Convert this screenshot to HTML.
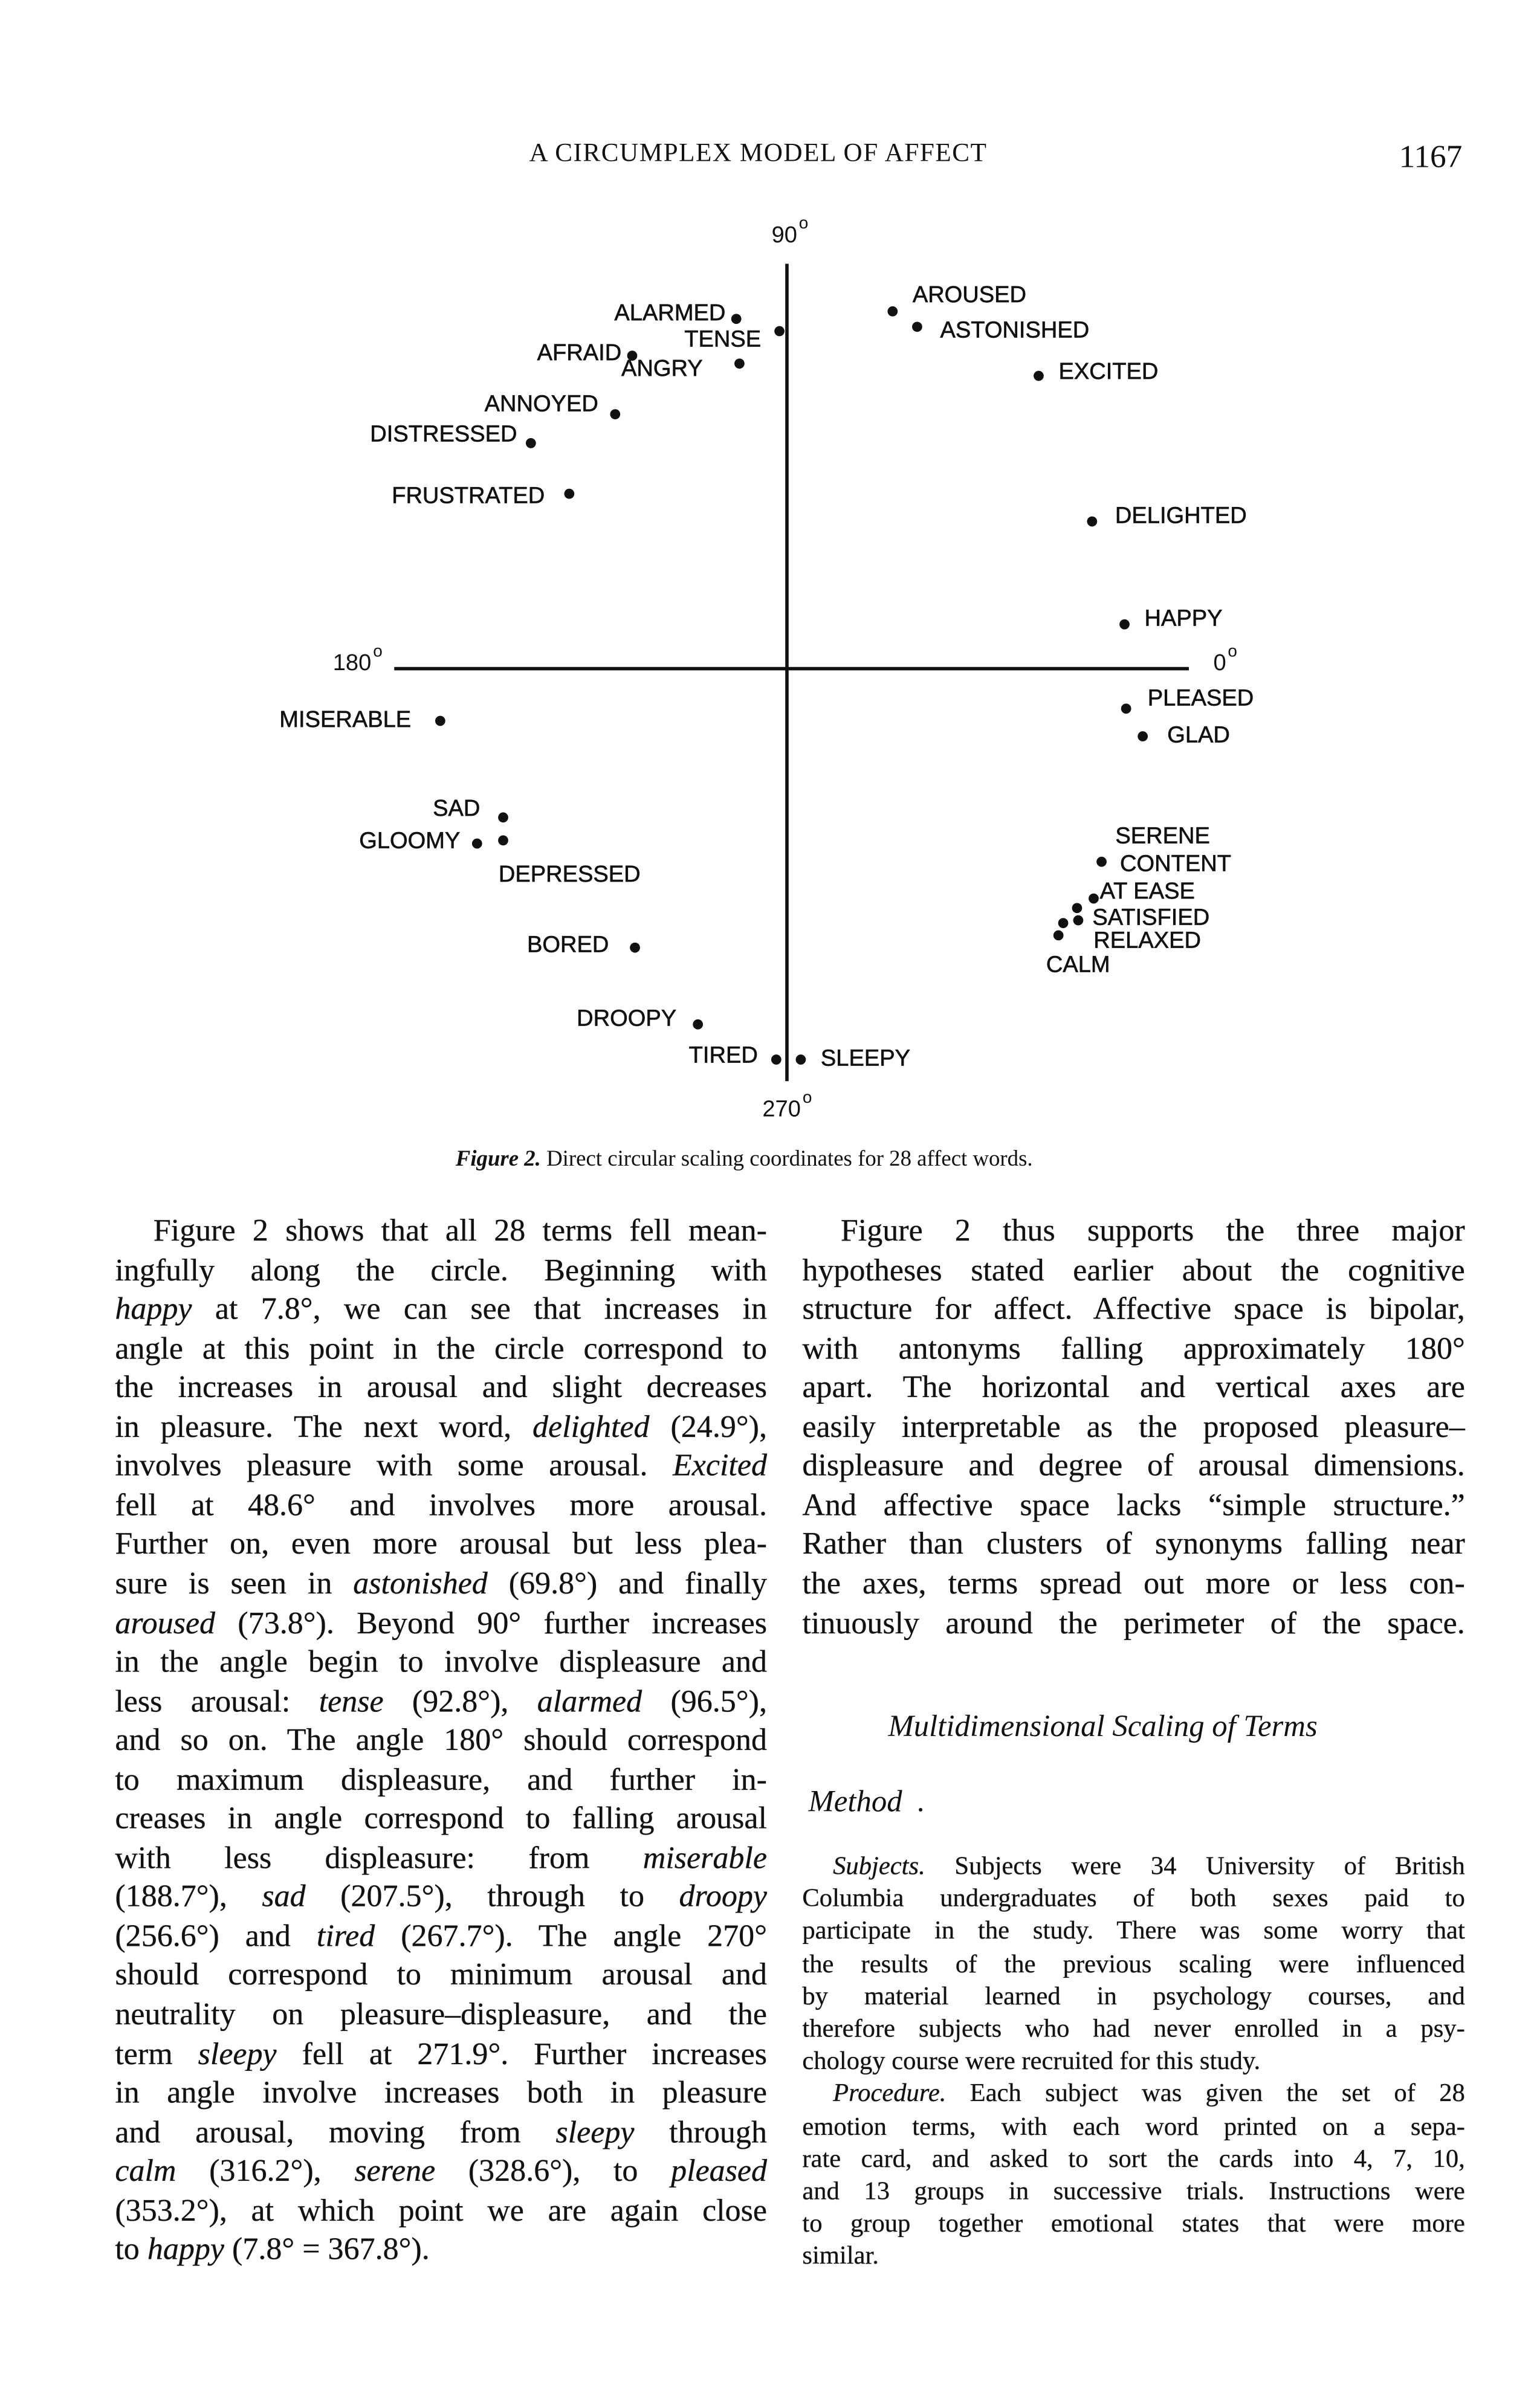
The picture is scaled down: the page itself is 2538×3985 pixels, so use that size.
<!DOCTYPE html>
<html><head><meta charset="utf-8">
<style>
html,body{margin:0;padding:0;background:#fff;}
body{width:2538px;height:3983px;overflow:hidden;position:relative;}
#page{position:absolute;left:0;top:0;width:1000px;height:1570px;transform:scale(2.538);transform-origin:0 0;color:#111;}
.serif{font-family:"Liberation Serif",serif;}
.ln{position:absolute;white-space:nowrap;font-family:"Liberation Serif",serif;text-shadow:0 0 0.3px #111;}
.big .ln{font-size:20.5px;}
.small .ln{font-size:16.8px;}
i{font-style:italic;}
</style></head><body>
<div id="page">
<div class="serif" style="position:absolute;left:345px;top:90px;font-size:17px;letter-spacing:0.6px;">A CIRCUMPLEX MODEL OF AFFECT</div>
<div class="serif" style="position:absolute;left:912px;top:90px;font-size:21px;">1167</div>

<svg id="chart" width="1000" height="760" style="position:absolute;left:0;top:0;" font-family="Liberation Sans, sans-serif"></svg>

<div class="serif" style="position:absolute;left:297px;top:748px;font-size:14.5px;"><i><b>Figure 2.</b></i> Direct circular scaling coordinates for 28 affect words.</div>

<div class="big" id="leftcol"></div>
<div class="big" id="rightcol"></div>
<div class="serif" style="position:absolute;left:579px;top:1115px;font-size:20px;font-style:italic;">Multidimensional Scaling of Terms</div>
<div class="serif" style="position:absolute;left:527px;top:1164px;font-size:20px;font-style:italic;">Method &nbsp;.</div>
<div class="small" id="smallcol"></div>
</div>
<script>
// ---- chart data ----
const words = ["ALARMED","TENSE","AFRAID","ANGRY","ANNOYED","DISTRESSED","FRUSTRATED","AROUSED","ASTONISHED","EXCITED","DELIGHTED","HAPPY","PLEASED","GLAD","MISERABLE","SAD","GLOOMY","DEPRESSED","BORED","DROOPY","TIRED","SLEEPY","CONTENT","AT EASE","SATISFIED","RELAXED","SERENE","CALM"];
const pleasure = [-0.128,-0.019,-0.391,-0.120,-0.434,-0.647,-0.550,0.267,0.329,0.636,0.771,0.853,0.857,0.899,-0.876,-0.717,-0.783,-0.717,-0.384,-0.225,-0.027,0.035,0.795,0.775,0.733,0.736,0.698,0.686];
const arousal = [0.884,0.853,0.791,0.771,0.643,0.570,0.442,0.903,0.864,0.740,0.372,0.112,-0.101,-0.171,-0.132,-0.376,-0.442,-0.434,-0.705,-0.899,-0.988,-0.988,-0.488,-0.581,-0.605,-0.636,-0.643,-0.674];
const axisLabels = ["90","180","0","270"];
// label layout offsets (px from dot) and anchors
const labDx = [-7,-12,-7,-77,-11,-9,-16,13,15,13,15,13,14,16,-19,-15,-11,-3,-17,-14,-12,13,12,4,10,10,34,-8];
const labDy = [-3,6,-1,4,-6,-5,2,-10,3,-2,-3,-3,-6,0,0,-5,-1,23,-1,-3,-2,0,2,-4,7,14,-56,20];
const labAnchor = ["end","end","end","start","end","end","end","start","start","start","start","start","start","start","end","end","end","start","end","end","end","start","start","start","start","start","start","start"];

const CX=513, CY=436, S=258;
const sx = v => CX + v*S;
const sy = v => CY - v*S;
const NS="http://www.w3.org/2000/svg";
const svg=document.getElementById('chart');
function mk(tag,attrs){const e=document.createElementNS(NS,tag);for(const k in attrs)e.setAttribute(k,attrs[k]);svg.appendChild(e);return e;}
let e=mk('line',{x1:CX,y1:172,x2:CX,y2:705,stroke:'#111','stroke-width':2.2});


e=mk('line',{x1:257,y1:CY,x2:775,y2:CY,stroke:'#111','stroke-width':2.2});


const axPos=[[503,158,'start'],[217,437,'start'],[791,437,'start'],[497,728,'start']];
axisLabels.forEach((t,i)=>{
  const g=mk('text',{x:axPos[i][0],y:axPos[i][1],'font-size':15,fill:'#111'});
  g.textContent=t;
  
  
  const w=t.length*8.4;
  const c=mk('text',{x:axPos[i][0]+w+1,y:axPos[i][1]-9,'font-size':11,fill:'#111'});
  c.textContent='o';
  
  
});
words.forEach((w,i)=>{
  const x=sx(pleasure[i]), y=sy(arousal[i]);
  const d=mk('circle',{cx:x,cy:y,r:3.3,fill:'#111'});
  
  
  const t=mk('text',{x:x+labDx[i],y:y+labDy[i],'text-anchor':labAnchor[i],'dominant-baseline':'middle','font-size':15,fill:'#111',stroke:'#111','stroke-width':0.25});
  t.textContent=w;
  
  
});

// ---- body text ----
const leftLines=[
"Figure 2 shows that all 28 terms fell mean-",
"ingfully along the circle. Beginning with",
"<i>happy</i> at 7.8°, we can see that increases in",
"angle at this point in the circle correspond to",
"the increases in arousal and slight decreases",
"in pleasure. The next word, <i>delighted</i> (24.9°),",
"involves pleasure with some arousal. <i>Excited</i>",
"fell at 48.6° and involves more arousal.",
"Further on, even more arousal but less plea-",
"sure is seen in <i>astonished</i> (69.8°) and finally",
"<i>aroused</i> (73.8°). Beyond 90° further increases",
"in the angle begin to involve displeasure and",
"less arousal: <i>tense</i> (92.8°), <i>alarmed</i> (96.5°),",
"and so on. The angle 180° should correspond",
"to maximum displeasure, and further in-",
"creases in angle correspond to falling arousal",
"with less displeasure: from <i>miserable</i>",
"(188.7°), <i>sad</i> (207.5°), through to <i>droopy</i>",
"(256.6°) and <i>tired</i> (267.7°). The angle 270°",
"should correspond to minimum arousal and",
"neutrality on pleasure–displeasure, and the",
"term <i>sleepy</i> fell at 271.9°. Further increases",
"in angle involve increases both in pleasure",
"and arousal, moving from <i>sleepy</i> through",
"<i>calm</i> (316.2°), <i>serene</i> (328.6°), to <i>pleased</i>",
"(353.2°), at which point we are again close",
"to <i>happy</i> (7.8° = 367.8°)."];
const rightLines=[
"Figure 2 thus supports the three major",
"hypotheses stated earlier about the cognitive",
"structure for affect. Affective space is bipolar,",
"with antonyms falling approximately 180°",
"apart. The horizontal and vertical axes are",
"easily interpretable as the proposed pleasure–",
"displeasure and degree of arousal dimensions.",
"And affective space lacks “simple structure.”",
"Rather than clusters of synonyms falling near",
"the axes, terms spread out more or less con-",
"tinuously around the perimeter of the space."];
const smallLines=[
"<i>Subjects.</i> Subjects were 34 University of British",
"Columbia undergraduates of both sexes paid to",
"participate in the study. There was some worry that",
"the results of the previous scaling were influenced",
"by material learned in psychology courses, and",
"therefore subjects who had never enrolled in a psy-",
"chology course were recruited for this study.",
"<i>Procedure.</i> Each subject was given the set of 28",
"emotion terms, with each word printed on a sepa-",
"rate card, and asked to sort the cards into 4, 7, 10,",
"and 13 groups in successive trials. Instructions were",
"to group together emotional states that were more",
"similar."];
function place(container,lines,x0,x1,y0,pitch,firstIndent,noJust){
  const c=document.getElementById(container);
  lines.forEach((h,i)=>{
    const d=document.createElement('div');
    d.className='ln';
    
    
    d.innerHTML=h;
    const left=x0+(i==firstIndent?25:0);
    d.style.left=left+'px';
    d.style.top=(y0+i*pitch)+'px';
    c.appendChild(d);
    if(!noJust.includes(i)){
      const target=x1-left, w=d.getBoundingClientRect().width/2.538;
      const gaps=(d.textContent.match(/ /g)||[]).length;
      if(gaps>0) d.style.wordSpacing=((target-w)/gaps)+'px';
    }
  });
}
place('leftcol',leftLines,75,500,792,25.55,0,[26]);
place('rightcol',rightLines,523,955,792,25.55,0,[]);
place('smallcol',smallLines,523,955,1207,21.2,-1,[6,12]);
const sc=document.getElementById('smallcol').children;
[0,7].forEach(i=>{const d=sc[i];d.style.left='543px';d.style.wordSpacing='0px';const w=d.getBoundingClientRect().width/2.538;const g=(d.textContent.match(/ /g)||[]).length;d.style.wordSpacing=((955-543-w)/g)+'px';});
</script>
</body></html>
